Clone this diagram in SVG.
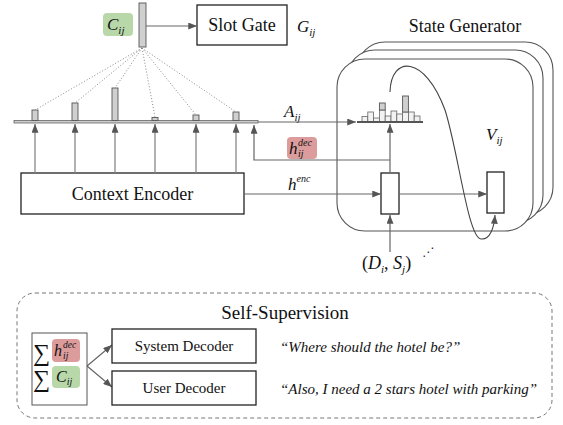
<svg xmlns="http://www.w3.org/2000/svg" width="563" height="425" viewBox="0 0 563 425">
<defs>
<marker id="ah" viewBox="0 0 10 8" refX="10" refY="4" markerWidth="9" markerHeight="7" markerUnits="userSpaceOnUse" orient="auto"><path d="M0,0 L10,4 L0,8 z" fill="#555"/></marker>
</defs>
<style>
.t{font-family:'Liberation Serif','Times New Roman',Times,'DejaVu Serif','Noto Serif',serif;fill:#111}
.m{font-family:'Liberation Serif','Times New Roman',Times,'DejaVu Serif','Noto Serif',serif;font-style:italic;fill:#111}
.box{fill:#fff;stroke:#222;stroke-width:1.3}
.ln{fill:none;stroke:#666;stroke-width:1.2}
.up{fill:none;stroke:#888;stroke-width:1.3}
.bar{fill:#d0d0d0;stroke:#555;stroke-width:0.9}
.lbar{fill:#f2f2f2;stroke:#666;stroke-width:0.8}
.dot{fill:none;stroke:#888;stroke-width:1;stroke-dasharray:1 2}
.frame{fill:#fff;stroke:#555;stroke-width:1.1}
.green{fill:#b9d8aa}
.red{fill:#dc9c9c}
</style>
<rect width="563" height="425" fill="#fff"/>

<g id="state-generator">
<rect x="357" y="42" width="196" height="173" rx="28" class="frame"/>
<rect x="347" y="50" width="196" height="173" rx="28" class="frame"/>
<rect x="337" y="59" width="196" height="172" rx="28" class="frame"/>
<text class="t" x="465" y="32" font-size="18" text-anchor="middle">State Generator</text>
</g>

<g id="slot-vector">
<rect x="103" y="13" width="30" height="23" rx="4" class="green"/>
<text class="m" x="107" y="30" font-size="17">C<tspan font-size="11" dy="4">ij</tspan></text>
<rect x="139" y="3" width="7" height="44" class="bar" stroke="#333"/>
</g>

<g id="slot-gate">
<rect x="197" y="5" width="90" height="40" class="box"/>
<text class="t" x="242" y="31" font-size="18" text-anchor="middle">Slot Gate</text>
<text class="m" x="297" y="32" font-size="17">G<tspan font-size="11" dy="4">ij</tspan></text>
</g>

<g id="attention-context">
<rect x="14" y="120.5" width="244" height="2.5" fill="#ccc" stroke="#666" stroke-width="0.8"/>
<rect x="32" y="110" width="6" height="10.5" class="bar"/>
<rect x="72" y="103" width="6" height="17.5" class="bar"/>
<rect x="112" y="88" width="6" height="32.5" class="bar"/>
<rect x="152" y="117.5" width="6" height="3" class="bar"/>
<rect x="193" y="115" width="6" height="5.5" class="bar"/>
<rect x="233" y="112" width="6" height="8.5" class="bar"/>
<text class="m" x="284" y="117" font-size="17">A<tspan font-size="11" dy="4">ij</tspan></text>
</g>

<g id="context-encoder">
<rect x="21" y="173" width="223" height="41" class="box"/>
<text class="t" x="132.5" y="200" font-size="18" text-anchor="middle">Context Encoder</text>
</g>

<g id="hdec-label">
<rect x="287" y="137" width="30" height="22" rx="4" class="red"/>
<text class="m" x="289" y="154" font-size="17">h<tspan x="298" y="146" font-size="10">dec</tspan><tspan x="298" y="157" font-size="10">ij</tspan></text>
</g>

<g id="henc-label">
<text class="m" x="288" y="190" font-size="17">h<tspan font-size="10" dy="-8">enc</tspan></text>
</g>

<g id="vocab-dist">
<rect x="362" y="116.5" width="5.8" height="5" class="lbar"/>
<rect x="367.8" y="112" width="5.8" height="9.5" class="lbar"/>
<rect x="373.6" y="118" width="5.8" height="3.5" class="lbar"/>
<rect x="379.4" y="110" width="5.8" height="11.5" class="lbar"/>
<rect x="379.4" y="103" width="5.8" height="7" class="bar"/>
<rect x="385.2" y="116" width="5.8" height="5.5" class="lbar"/>
<rect x="391" y="111" width="5.8" height="10.5" class="lbar"/>
<rect x="396.8" y="114" width="5.8" height="7.5" class="lbar"/>
<rect x="402.6" y="112" width="5.8" height="9.5" class="lbar"/>
<rect x="402.6" y="96" width="5.8" height="16" class="bar"/>
<rect x="408.4" y="112" width="5.8" height="9.5" class="lbar"/>
<rect x="414.2" y="116" width="5.8" height="5.5" class="lbar"/>
<line x1="357" y1="122" x2="423" y2="122" stroke="#555" stroke-width="2"/>
</g>

<g id="decoder-cell-1">
<rect x="381" y="173" width="18" height="41" class="box"/>
</g>
<g id="decoder-cell-2">
<rect x="487" y="172" width="17" height="41" class="box"/>
<text class="m" x="486" y="140" font-size="17">V<tspan font-size="11" dy="4">ij</tspan></text>
</g>

<g id="input">
<text class="t" x="362" y="269" font-size="18">(<tspan font-style="italic">D</tspan><tspan font-size="11" font-style="italic" dy="4">i</tspan><tspan dy="-4">, </tspan><tspan font-style="italic">S</tspan><tspan font-size="11" font-style="italic" dy="4">j</tspan><tspan dy="-4">)</tspan></text>
<text x="422" y="256" font-family="DejaVu Sans,sans-serif" font-size="12" fill="#222">⋰</text>
</g>

<g id="connectors">
<line x1="146" y1="26" x2="197" y2="26" class="ln" marker-end="url(#ah)"/>
<line x1="142" y1="48" x2="35" y2="110" class="dot"/>
<line x1="142" y1="48" x2="75" y2="103" class="dot"/>
<line x1="142" y1="48" x2="115" y2="88" class="dot"/>
<line x1="142" y1="48" x2="155" y2="117" class="dot"/>
<line x1="142" y1="48" x2="196" y2="115" class="dot"/>
<line x1="142" y1="48" x2="236" y2="112" class="dot"/>
<line x1="35" y1="173" x2="35" y2="124" class="up" marker-end="url(#ah)"/>
<line x1="75" y1="173" x2="75" y2="124" class="up" marker-end="url(#ah)"/>
<line x1="115" y1="173" x2="115" y2="124" class="up" marker-end="url(#ah)"/>
<line x1="155" y1="173" x2="155" y2="124" class="up" marker-end="url(#ah)"/>
<line x1="196" y1="173" x2="196" y2="124" class="up" marker-end="url(#ah)"/>
<line x1="236" y1="173" x2="236" y2="124" class="up" marker-end="url(#ah)"/>
<line x1="258" y1="122" x2="356" y2="122" class="ln" marker-end="url(#ah)"/>
<line x1="390" y1="173" x2="390" y2="124" class="ln" marker-end="url(#ah)"/>
<polyline points="390,160 254,160 254,125" class="ln" marker-end="url(#ah)"/>
<line x1="244" y1="194" x2="381" y2="194" class="ln" marker-end="url(#ah)"/>
<line x1="399" y1="194" x2="487" y2="194" class="ln" marker-end="url(#ah)"/>
<line x1="390" y1="252" x2="390" y2="215" class="ln" marker-end="url(#ah)"/>
<path d="M390,92 C391,55 425,55 445,110 C458,150 468,238 481,239 C490,240 494,228 495,215" fill="none" stroke="#444" stroke-width="1.1" marker-end="url(#ah)"/>
<line x1="87" y1="366" x2="112" y2="345" class="ln" marker-end="url(#ah)"/>
<line x1="87" y1="366" x2="112" y2="387" class="ln" marker-end="url(#ah)"/>
</g>

<g id="self-supervision">
<rect x="17" y="293" width="535" height="125" rx="18" fill="none" stroke="#777" stroke-width="1" stroke-dasharray="4 3"/>
<text class="t" x="285" y="319" font-size="19" text-anchor="middle">Self-Supervision</text>
</g>

<g id="sum-box">
<rect x="32" y="333" width="55" height="72" fill="#fff" stroke="#555" stroke-width="1"/>
<rect x="52" y="339" width="28" height="23" rx="4" class="red"/>
<rect x="52" y="366" width="28" height="22" rx="4" class="green"/>
<text class="t" x="33" y="361" font-size="24">∑</text>
<text class="t" x="33" y="387" font-size="24">∑</text>
<text class="m" x="54" y="356" font-size="16">h<tspan x="63" y="348" font-size="9.5">dec</tspan><tspan x="63" y="359" font-size="9.5">ij</tspan></text>
<text class="m" x="56" y="382" font-size="16">C<tspan font-size="10" dy="3">ij</tspan></text>
</g>

<g id="system-decoder">
<rect x="112" y="329" width="144" height="34" class="box"/>
<text class="t" x="184" y="351" font-size="15" text-anchor="middle">System Decoder</text>
<text class="m" x="280" y="352" font-size="15">“Where should the hotel be?”</text>
</g>

<g id="user-decoder">
<rect x="112" y="371" width="144" height="34" class="box"/>
<text class="t" x="184" y="393" font-size="15" text-anchor="middle">User Decoder</text>
<text class="m" x="280" y="394" font-size="15">“Also, I need a 2 stars hotel with parking”</text>
</g>
</svg>
